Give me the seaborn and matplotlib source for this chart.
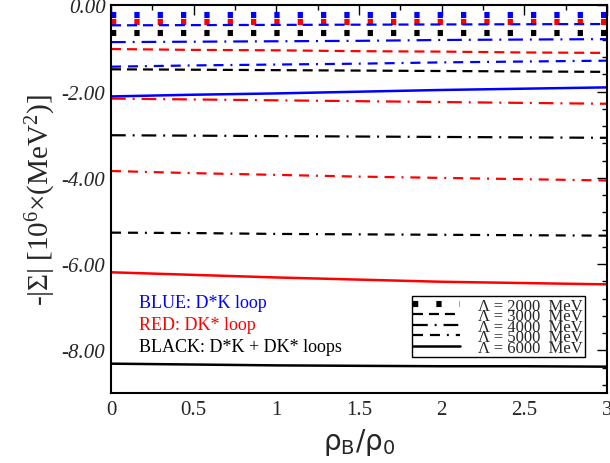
import numpy as np
import pandas as pd
import matplotlib
matplotlib.use("Agg")
import matplotlib.pyplot as plt
from matplotlib.lines import Line2D
from matplotlib.ticker import MultipleLocator, FormatStrFormatter
import seaborn as sns

# density ratio rho_B / rho_0
rho = [0.0, 0.5, 1.0, 1.5, 2.0, 2.5, 3.0]

# cutoff values (MeV)
cutoffs = [2000, 3000, 4000, 5000, 6000]

# -|Sigma| in units of 10^6 MeV^2, D*K loop (blue)
dsk_2000 = [-0.22, -0.22, -0.22, -0.22, -0.22, -0.22, -0.22]
dsk_3000 = [-0.46, -0.455, -0.45, -0.445, -0.44, -0.435, -0.43]
dsk_4000 = [-0.85, -0.84, -0.83, -0.82, -0.80, -0.79, -0.78]
dsk_5000 = [-1.42, -1.39, -1.37, -1.35, -1.32, -1.30, -1.28]
dsk_6000 = [-2.11, -2.07, -2.04, -2.00, -1.96, -1.93, -1.90]

# DK* loop (red)
dks_2000 = [-0.39, -0.39, -0.39, -0.39, -0.39, -0.39, -0.39]
dks_3000 = [-1.01, -1.03, -1.04, -1.06, -1.07, -1.09, -1.10]
dks_4000 = [-2.16, -2.18, -2.20, -2.22, -2.24, -2.26, -2.28]
dks_5000 = [-3.84, -3.89, -3.93, -3.97, -4.00, -4.03, -4.06]
dks_6000 = [-6.19, -6.25, -6.31, -6.36, -6.41, -6.44, -6.47]

# D*K + DK* loops (black)
tot_2000 = [-0.63, -0.63, -0.63, -0.63, -0.63, -0.63, -0.63]
tot_3000 = [-1.48, -1.49, -1.50, -1.51, -1.52, -1.53, -1.54]
tot_4000 = [-3.01, -3.02, -3.03, -3.04, -3.05, -3.06, -3.07]
tot_5000 = [-5.27, -5.28, -5.30, -5.31, -5.32, -5.33, -5.34]
tot_6000 = [-8.31, -8.33, -8.35, -8.36, -8.37, -8.37, -8.38]

# y tick values
yticks = [0.0, -2.0, -4.0, -6.0, -8.0]

loops = ["D*K", "DK*", "D*K + DK*"]
series = {
    "D*K": [dsk_2000, dsk_3000, dsk_4000, dsk_5000, dsk_6000],
    "DK*": [dks_2000, dks_3000, dks_4000, dks_5000, dks_6000],
    "D*K + DK*": [tot_2000, tot_3000, tot_4000, tot_5000, tot_6000],
}

rows = []
for loop in loops:
    for lam, vals in zip(cutoffs, series[loop]):
        for x, y in zip(rho, vals):
            rows.append({"rho": x, "sigma": y, "loop": loop, "cutoff": lam})
df = pd.DataFrame(rows)

sns.set_theme(style="white")
plt.rcParams["font.family"] = ["Liberation Serif", "DejaVu Sans"]
plt.rcParams["axes.unicode_minus"] = False
plt.rcParams["lines.scale_dashes"] = False
plt.rcParams["mathtext.fontset"] = "custom"
plt.rcParams["mathtext.rm"] = "Liberation Serif"
plt.rcParams["mathtext.it"] = "Liberation Serif:italic"

palette = {"D*K": "#0000ff", "DK*": "#ff0000", "D*K + DK*": "#000000"}

# line styles per cutoff, dash lengths in points
styles = {
    2000: dict(linestyle=(0, (3.8, 13.0)), linewidth=4.4),
    3000: dict(linestyle=(0, (7.2, 4.3)), linewidth=1.6),
    4000: dict(linestyle=(0, (10.6, 5.0, 1.4, 5.0)), linewidth=1.6),
    5000: dict(linestyle=(0, (7.2, 5.0, 7.2, 5.0, 1.4, 5.0)), linewidth=1.6),
    6000: dict(linestyle="-", linewidth=1.8),
}

fig = plt.figure(figsize=(6.1, 4.64), dpi=100)
ax = fig.add_axes([0.182, 0.150, 0.813, 0.836])

for lam in cutoffs:
    sub = df[df["cutoff"] == lam]
    sns.lineplot(data=sub, x="rho", y="sigma", hue="loop", palette=palette,
                 hue_order=loops, ax=ax, legend=False, estimator=None,
                 **styles[lam])

ax.set_xlim(0, 3)
ax.set_ylim(-9, 0)
ax.xaxis.set_major_locator(MultipleLocator(0.5))
ax.xaxis.set_minor_locator(MultipleLocator(0.25))
ax.yaxis.set_minor_locator(MultipleLocator(0.4))
ax.xaxis.set_major_formatter(FormatStrFormatter("%g"))
ax.set_yticks(yticks)
ax.set_yticklabels([f"{v:.2f}" for v in yticks], fontstyle="italic")

for s in ax.spines.values():
    s.set_linewidth(1.5)
    s.set_color("black")
ax.tick_params(which="both", direction="in", top=True, right=True,
               color="black", width=1.0)
ax.tick_params(which="major", length=7)
ax.tick_params(which="minor", length=3.6)
ax.tick_params(axis="x", which="major", labelsize=15, pad=5)
ax.tick_params(axis="y", which="major", labelsize=15, pad=4)

ax.set_xlabel(r"ρ$_\mathrm{B}$/ρ$_\mathrm{0}$", fontsize=20,
              family="DejaVu Sans", math_fontfamily="dejavusans", labelpad=5)
ax.set_ylabel(r"-|Σ| [10$^6$×(MeV$^2$)]", fontsize=21, labelpad=3)

ax.text(0.056, 0.224, "BLUE: D*K loop", color="#0000ff", fontsize=13,
        transform=ax.transAxes, va="baseline")
ax.text(0.056, 0.167, "RED: DK* loop", color="#ff0000", fontsize=13,
        transform=ax.transAxes, va="baseline")
ax.text(0.056, 0.109, "BLACK: D*K + DK* loops", color="black", fontsize=13,
        transform=ax.transAxes, va="baseline")

handles = [Line2D([], [], color="black", **styles[lam]) for lam in cutoffs]
labels = [f"Λ = {lam}  MeV" for lam in cutoffs]
leg = ax.legend(handles, labels, loc="upper left",
                bbox_to_anchor=(0.606, 0.251), fontsize=12,
                frameon=True, fancybox=False, framealpha=1,
                edgecolor="black", borderpad=0.1, labelspacing=-0.33,
                handlelength=2.8, handletextpad=1.1, borderaxespad=0)
leg.get_frame().set_linewidth(1.0)

fig.savefig("out.png", dpi=100)
